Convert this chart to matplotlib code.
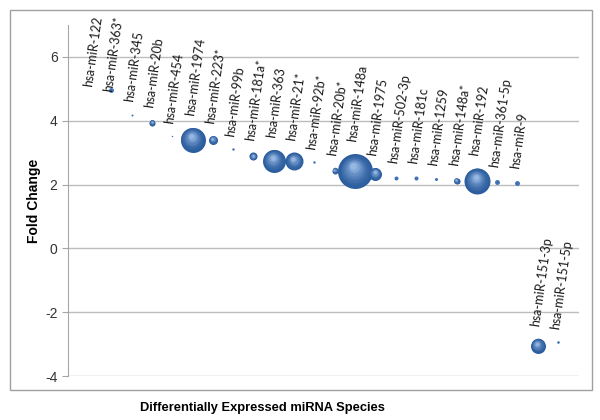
import numpy as np
import matplotlib.pyplot as plt
import matplotlib.transforms as mtransforms
from matplotlib.patches import Rectangle
from matplotlib.colors import to_rgb

# miRNA names, fold change and relative bubble size
mirnas = ["hsa-miR-122", "hsa-miR-363*", "hsa-miR-345", "hsa-miR-20b", "hsa-miR-454",
          "hsa-miR-1974", "hsa-miR-223*", "hsa-miR-99b", "hsa-miR-181a*", "hsa-miR-363",
          "hsa-miR-21*", "hsa-miR-92b*", "hsa-miR-20b*", "hsa-miR-148a", "hsa-miR-1975",
          "hsa-miR-502-3p", "hsa-miR-181c", "hsa-miR-1259", "hsa-miR-148a*", "hsa-miR-192",
          "hsa-miR-361-5p", "hsa-miR-9", "hsa-miR-151-3p", "hsa-miR-151-5p"]
fold_change = [5.6, 4.97, 4.19, 3.94, 3.53, 3.41, 3.40, 3.10, 2.88, 2.75,
               2.73, 2.70, 2.44, 2.42, 2.34, 2.22, 2.22, 2.18, 2.12, 2.12,
               2.09, 2.04, -3.05, -2.95]
bubble_size = [0, 6, 1, 9, 0.5, 156, 20, 1.5, 16, 132,
               81, 1.5, 9, 306, 42, 4, 4, 2.3, 9, 169,
               6, 6, 56, 1.7]

plt.rcParams['font.family'] = ['Liberation Sans', 'DejaVu Sans']
plt.rcParams['axes.unicode_minus'] = False

W, H = 600, 420
fig = plt.figure(figsize=(W / 100, H / 100), dpi=100)
ax = fig.add_axes([68 / W, (H - 376) / H, (579 - 68) / W, (376 - 25) / H])

x = np.arange(1, len(mirnas) + 1)
ax.set_xlim(-0.13, 25.03)
ax.set_ylim(-4, 7)
ax.set_yticks([-4, -2, 0, 2, 4, 6])
ax.set_xticks([])
ax.tick_params(axis='y', length=4, color='#a6a6a6', labelsize=10, labelcolor='#333333')
for s in ['top', 'right', 'bottom']:
    ax.spines[s].set_visible(False)
ax.spines['left'].set_color('#a6a6a6')
ax.grid(axis='y', color='#bdbdbd', lw=1)
ax.set_axisbelow(True)

dark = np.array(to_rgb('#2c5d9e'))
light = np.array(to_rgb('#a8c8f0'))
px2pt = 0.72
for xi, yi, sz in zip(x, fold_change, bubble_size):
    r = np.sqrt(sz) * px2pt
    if r <= 0:
        continue
    n = 10 if r > 2 else 1
    for k in range(n):
        t = k / n
        rad = r * (1 - 0.9 * t)
        col = dark + (light - dark) * t ** 1.6 if n > 1 else np.array(to_rgb('#3f72b4'))
        tr = mtransforms.offset_copy(ax.transData, fig=fig, x=-0.1 * r * t, y=0.3 * r * t, units='points')
        ax.scatter([xi], [yi], s=(2 * rad) ** 2, color=col, lw=0, transform=tr, zorder=3 + k)

# labels above each bubble, pushed down if they leave the chart area
texts = []
for xi, yi, sz, name in zip(x, fold_change, bubble_size, mirnas):
    off = (np.sqrt(sz) + 12) * px2pt
    t = ax.annotate(name, (xi, yi), xytext=(-2, off), textcoords='offset points',
                    rotation=82, rotation_mode='anchor', ha='left', va='center',
                    fontsize=9, family=['Lato', 'DejaVu Sans'], color='#1a1a1a',
                    zorder=20, annotation_clip=False)
    texts.append(t)

fig.canvas.draw()
rend = fig.canvas.get_renderer()
top_px = H - 15
for t in texts:
    bb = t.get_window_extent(rend)
    if bb.y1 > top_px:
        ox, oy = t.xyann
        t.xyann = (ox, oy - (bb.y1 - top_px) / (fig.dpi / 72))

ax.set_ylabel('Fold Change', fontsize=10, fontweight='bold', labelpad=3)
fig.text(262 / W, 1 - 408 / H, 'Differentially Expressed miRNA Species',
         ha='center', va='center', fontsize=9.3, fontweight='bold')

fig.patches.append(Rectangle((10 / W, 30 / H), 582 / W, 380 / H, transform=fig.transFigure,
                             fill=False, ec='#a0a0a0', lw=1))

fig.savefig('out.png', dpi=100)
